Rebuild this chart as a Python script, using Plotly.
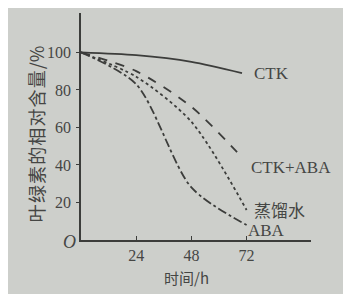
import plotly.graph_objects as go

# data
t_ctk = [0, 24, 48, 70]
ctk = [100, 98.5, 95, 89]
t_ctk_aba = [0, 24, 48, 70]
ctk_aba = [100, 90, 71, 44]
t_water = [0, 24, 48, 72]
water = [100, 87, 63, 16]
t_aba = [0, 24, 48, 72]
aba = [100, 83, 28, 8]

x_ticks = [24, 48, 72]
y_ticks = [20, 40, 60, 80, 100]

line_col = "#3c3d3b"
text_col = "#454644"
serif = "Liberation Serif"
cjk = "Noto Sans CJK SC"

fig = go.Figure()
series = [
    (t_ctk, ctk, "solid", "CTK"),
    (t_ctk_aba, ctk_aba, "dash", "CTK+ABA"),
    (t_water, water, "dot", "蒸馏水"),
    (t_aba, aba, "dashdot", "ABA"),
]
for xs, ys, dash, name in series:
    fig.add_trace(go.Scatter(x=xs, y=ys, mode="lines", name=name,
                             line=dict(color=line_col, width=1.8, dash=dash, shape="spline", smoothing=0.8)))

labels = [
    ("CTK", 74.2, 89, serif),
    ("CTK+ABA", 72.9, 38.5, serif),
    ("蒸馏水", 74.2, 16, cjk),
    ("ABA", 71.6, 5, serif),
]
for txt, x, y, f in labels:
    fig.add_annotation(x=x, y=y, text=txt, showarrow=False, xanchor="left", yanchor="middle",
                       font=dict(family=f, size=17, color=text_col))

fig.add_annotation(xref="paper", yref="paper", x=-0.048, y=-0.01, text="<i>O</i>", showarrow=False,
                   xanchor="center", yanchor="middle",
                   font=dict(family=serif, size=18, color=text_col))

ylabel = "\u200a".join(list("叶绿素的相对含量")) + "\u200a/%"
fig.add_annotation(xref="paper", yref="paper", x=-0.196, y=0.47, text=ylabel, textangle=-90,
                   xanchor="center", yanchor="middle",
                   showarrow=False, font=dict(family=cjk, size=18, color=text_col))
fig.add_annotation(xref="paper", yref="paper", x=0.46, y=-0.165, text="时间/h",
                   xanchor="center", yanchor="middle",
                   showarrow=False, font=dict(family=cjk, size=15, color=text_col))

fig.update_xaxes(range=[0, 100], tickvals=x_ticks, ticks="inside", ticklen=4, tickcolor=line_col,
                 showline=True, linecolor=line_col, linewidth=1.5, showgrid=False, zeroline=False,
                 tickfont=dict(family=serif, size=16, color=text_col))
fig.update_yaxes(range=[0, 121], tickvals=y_ticks, ticks="outside", ticklen=3, tickcolor=line_col,
                 showline=True, linecolor=line_col, linewidth=1.5, showgrid=False, zeroline=False,
                 ticklabelstandoff=2,
                 tickfont=dict(family=serif, size=16, color=text_col))

fig.update_layout(width=351, height=294, margin=dict(l=73, r=48, t=5, b=62),
                  paper_bgcolor="#cdcfcb", plot_bgcolor="#cdcfcb", showlegend=False)

fig.write_html("out.html")
